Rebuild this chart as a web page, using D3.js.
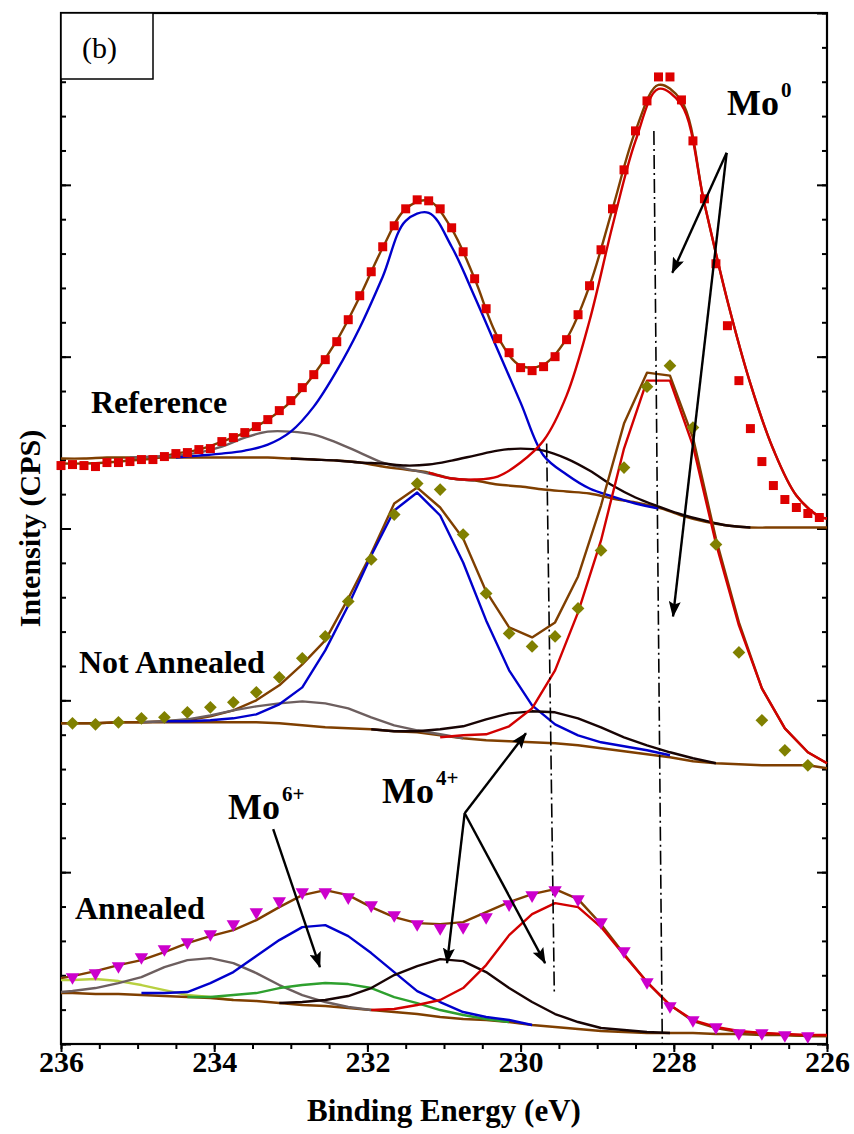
<!DOCTYPE html>
<html>
<head>
<meta charset="utf-8">
<script src="https://cdn.jsdelivr.net/npm/d3@7/dist/d3.min.js"></script>
<style>
  body { margin: 0; background: #fff; }
  svg { display: block; }
  text { font-family: "Liberation Serif", "Times New Roman", serif; }
</style>
</head>
<body>
<div id="chart"></div>
<script>
// ---- data (intensity in arbitrary counts) ----

// Reference: measured points, 0.15 eV step
const energyReference = [236.00, 235.85, 235.70, 235.55, 235.40, 235.25, 235.10, 234.95, 234.80, 234.65,
  234.50, 234.35, 234.20, 234.05, 233.90, 233.75, 233.60, 233.45, 233.30, 233.15,
  233.00, 232.85, 232.70, 232.55, 232.40, 232.25, 232.10, 231.95, 231.80, 231.65,
  231.50, 231.35, 231.20, 231.05, 230.90, 230.75, 230.60, 230.45, 230.30, 230.15,
  230.00, 229.85, 229.70, 229.55, 229.40, 229.25, 229.10, 228.95, 228.80, 228.65,
  228.50, 228.35, 228.20, 228.05, 227.90, 227.75, 227.60, 227.45, 227.30, 227.15,
  227.00, 226.85, 226.70, 226.55, 226.40, 226.25, 226.10];
const intensityReference = [579, 580, 579, 578, 582, 582, 583, 585, 585, 588,
  591, 592, 595, 596, 603, 607, 612, 618, 625, 634,
  644, 657, 670, 685, 703, 725, 749, 773, 798, 819,
  836, 845, 844, 836, 817, 793, 766, 736, 706, 692,
  677, 674, 678, 688, 705, 730, 759, 795, 836, 875,
  914, 944, 968, 968, 945, 904, 846, 781, 719, 664,
  616, 583, 559, 545, 537, 531, 527];

// Not annealed / annealed: measured points, 0.3 eV step
const energyScan = [235.85, 235.55, 235.25, 234.95, 234.65, 234.35, 234.05, 233.75, 233.45, 233.15,
  232.85, 232.55, 232.25, 231.95, 231.65, 231.35, 231.05, 230.75, 230.45, 230.15,
  229.85, 229.55, 229.25, 228.95, 228.65, 228.35, 228.05, 227.75, 227.45, 227.15,
  226.85, 226.55, 226.25];
const intensityNotAnnealed = [321, 320, 322, 326, 327, 332, 337, 342, 352, 367,
  386, 408, 443, 485, 530, 561, 555, 510, 451, 411,
  398, 408, 436, 494, 577, 658, 679, 617, 500, 392,
  324, 294, 279];
const intensityAnnealed = [67, 71, 78, 87, 95, 102, 110, 120, 132, 143,
  152, 152, 147, 139, 129, 120, 116, 117, 127, 140,
  149, 154, 145, 122, 93, 62, 38, 24, 17, 11,
  11, 9, 8];

// fit grids
const fitEnergyRef = [236.0, 235.7, 235.4, 235.1, 234.8, 234.5, 234.2, 233.9, 233.6, 233.3,
  233.0, 232.7, 232.4, 232.1, 231.8, 231.5, 231.2, 230.9, 230.6, 230.3,
  230.0, 229.7, 229.4, 229.1, 228.8, 228.5, 228.2, 227.9, 227.6, 227.3,
  227.0, 226.7, 226.4, 226.1, 226.0];
const fitEnergyScan = [236.0, ...energyScan, 226.0];

// Reference fit components (first grid index in comments)
const refEnvelope = [581, 581, 582, 584, 586, 591, 595, 603, 612, 625, 643, 670, 704, 748, 797, 836, 844, 816, 766, 708,
  679, 680, 706, 759, 836, 914, 960, 944, 841, 744, 661, 595, 549, 528, 526];
const refBackground = [586, 586, 587, 587, 587, 587, 587, 587, 587, 587, 586, 585, 584, 582, 578, 575, 572, 566, 564, 560,
  558, 555, 553, 551, 546, 542, 537, 529, 523, 519, 517, 517, 517, 517, 517];
const refBlue = [587, 589, 591, 594, 600, 613, 638, 674, 717, 768, 824, 832, 798, 748, 695,
  642, 589, 570, 556, 548, 541, 536];                                  // from 5
const refGray = [587, 588, 589, 592, 598, 607, 613, 613, 610, 602, 592, 582, 576, 571, 566, 564];   // from 3
const refBlack = [586, 585, 584, 582, 581, 579, 580, 584, 589, 594, 596, 594, 586, 574, 559, 547, 538, 530, 524, 519, 517]; // from 10
const refRed = [572, 566, 565, 568, 582, 604, 649, 724, 819, 904, 956, 940, 841, 744, 661, 595, 549, 528, 526];      // from 16

// Not annealed fit components
const naEnvelope = [321, 321, 321, 322, 322, 323, 324, 328, 334, 344, 359, 380, 404, 446, 491, 541, 557, 537, 506, 453,
  417, 407, 422, 468, 539, 621, 672, 669, 607, 506, 422, 356, 316, 292, 281];
const naBackground = [321, 321, 321, 322, 322, 322, 322, 322, 322, 322, 321, 319, 317, 316, 315, 313, 312, 309, 306, 304,
  303, 302, 301, 299, 296, 293, 290, 287, 283, 281, 280, 279, 279, 279, 276];
const naBlue = [323, 323, 324, 326, 330, 340, 357, 394, 439, 489, 534, 552, 529, 482, 424, 374, 339, 320, 309, 302,
  298, 294, 289];                                                      // from 5
const naGray = [322, 323, 325, 329, 334, 338, 341, 343, 341, 336, 327, 319, 314, 310, 306];          // from 4
const naBlack = [315, 313, 313, 315, 318, 325, 331, 333, 332, 326, 317, 307, 299, 292, 286, 281];    // from 14
const naRed = [307, 309, 310, 318, 336, 374, 432, 504, 596, 664, 664, 599, 501, 419, 356, 316, 292, 281]; // from 17

// Annealed fit components
const anEnvelope = [66, 68, 73, 79, 84, 92, 101, 108, 114, 124, 137, 149, 154, 149, 137, 127, 121, 120, 122, 132,
  142, 150, 155, 145, 120, 90, 62, 39, 23, 16, 12, 11, 9, 8, 8];
const anBackground = [51, 51, 50, 50, 49, 48, 47, 46, 44, 43, 41, 39, 38, 36, 34, 32, 30, 27, 25, 24,
  22, 19, 17, 15, 13, 12, 11, 11, 11, 10, 10, 9, 9, 8, 8];
const anBlue = [51, 51, 52, 61, 72, 88, 104, 117, 119, 108, 91, 72, 53, 42, 32, 27, 24, 19];        // from 4
const anGray = [52, 53, 56, 61, 67, 77, 84, 86, 81, 71, 59, 49, 42, 37, 34];                         // from 0
const anLime = [64, 64, 65, 63, 59, 54, 49, 47, 44];                                                 // from 0
const anGreen = [47, 47, 49, 51, 56, 59, 61, 60, 56, 47, 41, 34, 29, 25, 22];                        // from 6
const anBlack = [41, 42, 44, 48, 56, 69, 78, 85, 83, 72, 56, 42, 30, 22, 16, 14, 12, 11];            // from 10
const anRed = [34, 35, 39, 44, 56, 79, 109, 130, 141, 137, 117, 89, 62, 39, 24, 17, 13, 11, 10, 9, 9]; // from 14

const xTickLabels = [236, 234, 232, 230, 228, 226];

// ---- layout ----
const width = 854;
const height = 1134;
const plot = { left: 61, right: 827, top: 13, bottom: 1044 };

const colors = {
  brown: '#7f3f00',
  red: '#d20000',
  blue: '#0000cc',
  gray: '#6d5f5f',
  black: '#180404',
  green: '#2ea02e',
  lime: '#b8d040',
  square: '#dd0000',
  diamond: '#808000',
  triangle: '#cc00cc'
};

const svg = d3.select('#chart')
  .append('svg')
  .attr('width', width)
  .attr('height', height);

const x = d3.scaleLinear().domain([236, 226]).range([plot.left, plot.right]);
const y = d3.scaleLinear().domain([0, 1032]).range([plot.bottom, plot.top]);

// arrowhead
svg.append('defs').append('marker')
  .attr('id', 'arrow')
  .attr('viewBox', '0 0 16 12')
  .attr('refX', 15)
  .attr('refY', 6)
  .attr('markerWidth', 16)
  .attr('markerHeight', 12)
  .attr('markerUnits', 'userSpaceOnUse')
  .attr('orient', 'auto')
  .append('path')
  .attr('d', 'M0,0 L16,6 L0,12 L3,6 Z')
  .attr('fill', '#000');

// ---- axes ----
svg.append('g')
  .attr('transform', `translate(0,${plot.bottom})`)
  .call(d3.axisBottom(x).tickValues(d3.range(236, 225.9, -0.5)).tickSize(5).tickFormat(''))
  .call(g => g.select('.domain').remove());

svg.append('g')
  .attr('transform', `translate(0,${plot.bottom})`)
  .call(d3.axisBottom(x).tickValues(xTickLabels).tickSize(8).tickFormat(d3.format('d')))
  .call(g => g.select('.domain').remove())
  .call(g => g.selectAll('text')
    .attr('y', 28)
    .attr('dy', 0)
    .style('font-family', '"Liberation Serif", serif')
    .style('font-size', '30px')
    .style('font-weight', 'bold')
    .attr('fill', '#000'));

const yMinor = d3.range(0, 1033, 34.4);
const yMajor = d3.range(0, 1033, 172);

[[d3.axisRight, plot.left], [d3.axisLeft, plot.right]].forEach(([axisFn, xPos]) => {
  svg.append('g')
    .attr('transform', `translate(${xPos},0)`)
    .call(axisFn(y).tickValues(yMinor).tickSize(5).tickFormat(''))
    .call(g => g.select('.domain').remove());
  svg.append('g')
    .attr('transform', `translate(${xPos},0)`)
    .call(axisFn(y).tickValues(yMajor).tickSize(10).tickFormat(''))
    .call(g => g.select('.domain').remove());
});

svg.selectAll('.tick line').attr('stroke', '#000').attr('stroke-width', 2);

// frame
svg.append('rect')
  .attr('x', plot.left)
  .attr('y', plot.top)
  .attr('width', plot.right - plot.left)
  .attr('height', plot.bottom - plot.top)
  .attr('fill', 'none')
  .attr('stroke', '#000')
  .attr('stroke-width', 2.2);

// axis titles
svg.append('text')
  .attr('x', (plot.left + plot.right) / 2)
  .attr('y', 1121)
  .attr('text-anchor', 'middle')
  .style('font-size', '31px')
  .style('font-weight', 'bold')
  .text('Binding Energy (eV)');

svg.append('text')
  .attr('transform', `translate(40,${(plot.top + plot.bottom) / 2}) rotate(-90)`)
  .attr('text-anchor', 'middle')
  .style('font-size', '30px')
  .style('font-weight', 'bold')
  .text('Intensity (CPS)');

// ---- fit lines ----
const toPoints = (energies, values, from) => values.map((v, i) => ({ e: energies[from + i], v }));

const smoothLine = d3.line().x(d => x(d.e)).y(d => y(d.v)).curve(d3.curveCatmullRom.alpha(0.5));
const straightLine = d3.line().x(d => x(d.e)).y(d => y(d.v));

// drawing order: background, envelope, then components on top
const fitSets = [
  { grid: fitEnergyRef, gen: smoothLine, lines: [
    [refBackground, 0, colors.brown], [refEnvelope, 0, colors.brown],
    [refGray, 3, colors.gray], [refBlue, 5, colors.blue], [refBlack, 10, colors.black], [refRed, 16, colors.red]] },
  { grid: fitEnergyScan, gen: straightLine, lines: [
    [naBackground, 0, colors.brown], [naEnvelope, 0, colors.brown],
    [naGray, 4, colors.gray], [naBlue, 5, colors.blue], [naBlack, 14, colors.black], [naRed, 17, colors.red]] },
  { grid: fitEnergyScan, gen: straightLine, lines: [
    [anLime, 0, colors.lime], [anBackground, 0, colors.brown], [anEnvelope, 0, colors.brown],
    [anGray, 0, colors.gray], [anGreen, 6, colors.green], [anBlue, 4, colors.blue],
    [anBlack, 10, colors.black], [anRed, 14, colors.red]] }
];

const linesG = svg.append('g');
fitSets.forEach(set => {
  set.lines.forEach(([values, from, color]) => {
    linesG.append('path')
      .datum(toPoints(set.grid, values, from))
      .attr('d', set.gen)
      .attr('fill', 'none')
      .attr('stroke', color)
      .attr('stroke-width', 2.4)
      .attr('stroke-linejoin', 'round');
  });
});

// ---- dash-dot guide lines ----
const guides = [
  { e1: 229.66, v1: 601, e2: 229.56, v2: 51 },
  { e1: 228.26, v1: 914, e2: 228.15, v2: 0 }
];
svg.append('g').selectAll('line')
  .data(guides)
  .enter()
  .append('line')
  .attr('x1', d => x(d.e1)).attr('y1', d => y(d.v1))
  .attr('x2', d => x(d.e2)).attr('y2', d => y(d.v2))
  .attr('stroke', '#000')
  .attr('stroke-width', 1.6)
  .attr('stroke-dasharray', '14,4,2,4');

// ---- measured points ----
const pointsG = svg.append('g');

pointsG.selectAll('.sq')
  .data(energyReference.map((e, i) => ({ e, v: intensityReference[i] })))
  .enter()
  .append('path')
  .attr('d', d3.symbol().type(d3.symbolSquare).size(81))
  .attr('transform', d => `translate(${x(d.e)},${y(d.v)})`)
  .attr('fill', colors.square);

pointsG.selectAll('.dm')
  .data(energyScan.map((e, i) => ({ e, v: intensityNotAnnealed[i] })))
  .enter()
  .append('path')
  .attr('d', d3.symbol().type(d3.symbolSquare).size(81))
  .attr('transform', d => `translate(${x(d.e)},${y(d.v)}) rotate(45)`)
  .attr('fill', colors.diamond);

pointsG.selectAll('.tr')
  .data(energyScan.map((e, i) => ({ e, v: intensityAnnealed[i] })))
  .enter()
  .append('path')
  .attr('d', d3.symbol().type(d3.symbolTriangle).size(78))
  .attr('transform', d => `translate(${x(d.e)},${y(d.v)}) rotate(180)`)
  .attr('fill', colors.triangle);

// ---- annotations ----
const arrows = [
  { from: [227.31, 892], to: [228.02, 772] },
  { from: [227.31, 892], to: [228.01, 428] },
  { from: [230.73, 231], to: [229.93, 311] },
  { from: [230.73, 231], to: [230.96, 81] },
  { from: [230.73, 231], to: [229.68, 81] },
  { from: [233.23, 215], to: [232.62, 77] }
];
svg.append('g').selectAll('line')
  .data(arrows)
  .enter()
  .append('line')
  .attr('x1', d => x(d.from[0])).attr('y1', d => y(d.from[1]))
  .attr('x2', d => x(d.to[0])).attr('y2', d => y(d.to[1]))
  .attr('stroke', '#000')
  .attr('stroke-width', 2.4)
  .attr('marker-end', 'url(#arrow)');

const sampleLabels = [
  { text: 'Reference', px: 91, py: 413 },
  { text: 'Not Annealed', px: 79, py: 673 },
  { text: 'Annealed', px: 75, py: 919 }
];
svg.append('g').selectAll('text')
  .data(sampleLabels)
  .enter()
  .append('text')
  .attr('x', d => d.px)
  .attr('y', d => d.py)
  .style('font-size', '32px')
  .style('font-weight', 'bold')
  .text(d => d.text);

const stateLabels = [
  { sup: '0', px: 727, py: 115 },
  { sup: '4+', px: 382, py: 803 },
  { sup: '6+', px: 228, py: 819 }
];
stateLabels.forEach(d => {
  const t = svg.append('text')
    .attr('x', d.px)
    .attr('y', d.py)
    .style('font-size', '36px')
    .style('font-weight', 'bold');
  t.append('tspan').text('Mo');
  t.append('tspan')
    .attr('dy', -18)
    .attr('dx', 2)
    .style('font-size', '21px')
    .text(d.sup);
});

// panel tag
svg.append('rect')
  .attr('x', plot.left)
  .attr('y', plot.top)
  .attr('width', 92)
  .attr('height', 66)
  .attr('fill', '#fff')
  .attr('stroke', '#000')
  .attr('stroke-width', 1.5);
svg.append('text')
  .attr('x', 82)
  .attr('y', 58)
  .style('font-size', '30px')
  .text('(b)');
</script>
</body>
</html>
